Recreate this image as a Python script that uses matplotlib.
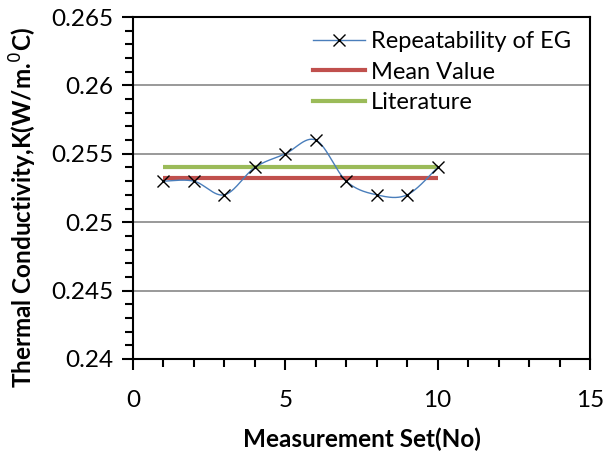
import numpy as np
import matplotlib
matplotlib.use("Agg")
import matplotlib.pyplot as plt
from matplotlib.ticker import MultipleLocator, FixedLocator
from matplotlib.lines import Line2D

# Data
meas_set = [1, 2, 3, 4, 5, 6, 7, 8, 9, 10]
repeat_eg = [0.253, 0.253, 0.252, 0.254, 0.255, 0.256, 0.253, 0.252, 0.252, 0.254]
mean_x = [1, 10]
mean_val = [0.2532, 0.2532]
lit_x = [1, 10]
lit_val = [0.254, 0.254]
x_ticks = [0, 5, 10, 15]
y_ticks = [0.24, 0.245, 0.25, 0.255, 0.26, 0.265]
y_tick_labels = ["0.24", "0.245", "0.25", "0.255", "0.26", "0.265"]

plt.rcParams['font.family'] = ['Lato', 'DejaVu Sans']
FS = 17.5


def smooth(x, y, n=30):
    # Excel-style smoothed line rendering (cardinal spline through the points)
    x = np.asarray(x, float); y = np.asarray(y, float)
    px = np.concatenate([[x[0]], x, [x[-1]]])
    py = np.concatenate([[y[0]], y, [y[-1]]])
    xs, ys = [], []
    t = np.linspace(0, 1, n)
    for i in range(1, len(px) - 2):
        p0, p1, p2, p3 = (np.array([px[j], py[j]]) for j in (i - 1, i, i + 1, i + 2))
        c1 = p1 + (p2 - p0) / 6.0
        c2 = p2 - (p3 - p1) / 6.0
        pts = ((1 - t)[:, None] ** 3 * p1 + 3 * ((1 - t) ** 2 * t)[:, None] * c1
               + 3 * ((1 - t) * t ** 2)[:, None] * c2 + (t ** 3)[:, None] * p2)
        xs.extend(pts[:, 0]); ys.extend(pts[:, 1])
    return np.array(xs), np.array(ys)


fig = plt.figure(figsize=(6.04, 4.51), dpi=100)
ax = fig.add_axes([0.2202, 0.204, 0.7566, 0.7583])

sx, sy = smooth(meas_set, repeat_eg)
ax.plot(sx, sy, color='#4A7EBB', lw=1.0, zorder=3)
ax.plot(meas_set, repeat_eg, ls='none', marker='x', color='black', ms=8, mew=1.0, zorder=4)
ax.plot(mean_x, mean_val, color='#C0504D', lw=3, solid_capstyle='butt', zorder=2)
ax.plot(lit_x, lit_val, color='#9BBB59', lw=3, solid_capstyle='butt', zorder=2)

h1 = Line2D([], [], color='#4A7EBB', lw=1.0, marker='x', mec='black', ms=8, mew=1.0)
h2 = Line2D([], [], color='#C0504D', lw=3)
h3 = Line2D([], [], color='#9BBB59', lw=3)
ax.legend([h1, h2, h3], ['Repeatability of EG', 'Mean Value', 'Literature'],
          loc='upper right', bbox_to_anchor=(0.99, 1.0), frameon=False, fontsize=17,
          handlelength=2.2, handletextpad=0.25, labelspacing=0.4, borderaxespad=0.2)

ax.set_xlim(0, 15)
ax.set_ylim(0.24, 0.265)
ax.xaxis.set_major_locator(FixedLocator(x_ticks))
ax.xaxis.set_minor_locator(MultipleLocator(1))
ax.yaxis.set_major_locator(FixedLocator(y_ticks))
ax.set_yticklabels(y_tick_labels)
ax.yaxis.set_minor_locator(MultipleLocator(0.001))

ax.grid(axis='y', which='major', color='#878787', lw=1.2)
ax.set_axisbelow(True)
for s in ax.spines.values():
    s.set_linewidth(1.5)
    s.set_color('black')

ax.tick_params(which='major', direction='out', length=8, width=1.5, labelsize=FS, pad=6)
ax.tick_params(which='minor', direction='out', length=6, width=1.5)
ax.tick_params(axis='x', pad=14)

ax.set_xlabel('Measurement Set(No)', fontsize=FS, fontweight='bold', labelpad=12)
ax.set_ylabel('Thermal Conductivity,K(W/m.$^{0}$C)', fontsize=FS, fontweight='bold')
ax.yaxis.set_label_coords(-0.205, 0.444)

fig.savefig('out.png', dpi=100)
